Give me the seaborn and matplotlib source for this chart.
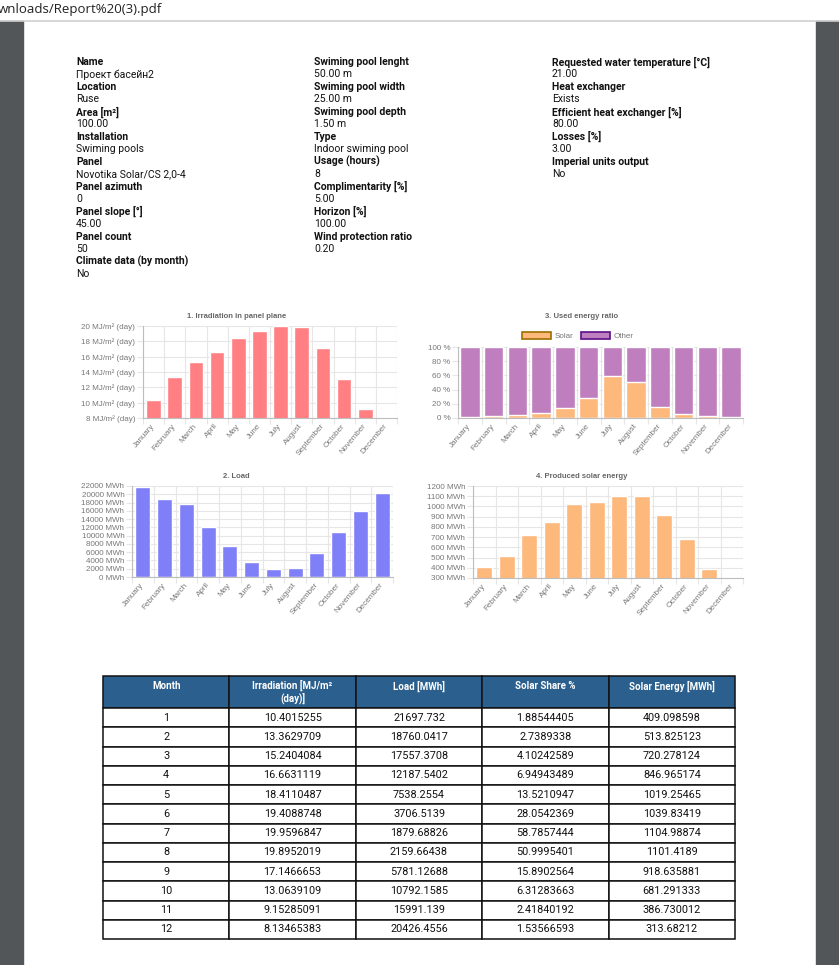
import matplotlib
matplotlib.use('Agg')
import matplotlib.pyplot as plt
from matplotlib.patches import Rectangle, Patch
from matplotlib.lines import Line2D
from matplotlib.ticker import FixedLocator
import seaborn as sns
import pandas as pd

# ---- data ----
months = ['January', 'February', 'March', 'April', 'May', 'June', 'July',
          'August', 'September', 'October', 'November', 'December']
month_no = list(range(1, 13))
irradiation = [10.4015255, 13.3629709, 15.2404084, 16.6631119, 18.4110487, 19.4088748,
               19.9596847, 19.8952019, 17.1466653, 13.0639109, 9.15285091, 8.13465383]
load = [21697.732, 18760.0417, 17557.3708, 12187.5402, 7538.2554, 3706.5139,
        1879.68826, 2159.66438, 5781.12688, 10792.1585, 15991.139, 20426.4556]
solar_share = [1.88544405, 2.7389338, 4.10242589, 6.94943489, 13.5210947, 28.0542369,
               58.7857444, 50.9995401, 15.8902564, 6.31283663, 2.41840192, 1.53566593]
solar_energy = [409.098598, 513.825123, 720.278124, 846.965174, 1019.25465, 1039.83419,
                1104.98874, 1101.4189, 918.635881, 681.291333, 386.730012, 313.68212]
other_share = [100 - s for s in solar_share]

# header fields: (label, value)
col1_fields = [('Name', 'Проект басейн2'), ('Location', 'Ruse'), ('Area [m²]', '100.00'),
               ('Installation', 'Swiming pools'), ('Panel', 'Novotika Solar/CS 2,0-4'),
               ('Panel azimuth', '0'), ('Panel slope [°]', '45.00'), ('Panel count', '50'),
               ('Climate data (by month)', 'No')]
col2_fields = [('Swiming pool lenght', '50.00 m'), ('Swiming pool width', '25.00 m'),
               ('Swiming pool depth', '1.50 m'), ('Type', 'Indoor swiming pool'),
               ('Usage (hours)', '8'), ('Complimentarity [%]', '5.00'),
               ('Horizon [%]', '100.00'), ('Wind protection ratio', '0.20')]
col3_fields = [('Requested water temperature [°C]', '21.00'), ('Heat exchanger', 'Exists'),
               ('Efficient heat exchanger [%]', '80.00'), ('Losses [%]', '3.00'),
               ('Imperial units output', 'No')]

table_cols = ['Month', 'Irradiation [MJ/m²\n(day)]', 'Load [MWh]', 'Solar Share %', 'Solar Energy [MWh]']

df = pd.DataFrame({'month': months, 'irr': irradiation, 'load': load,
                   'solar': solar_share, 'other': other_share, 'energy': solar_energy})
df['total'] = df['solar'] + df['other']

RED = '#ff7f82'
BLUE = '#7f7ff8'
ORANGE = '#fdb87c'
PURPLE = '#bf7fbf'
TICK_C = '#777777'
GRID_C = '#e6e6e6'

sns.set_theme(style='white')
plt.rcParams['font.family'] = ['Roboto', 'DejaVu Sans']

W, H = 839, 965
fig = plt.figure(figsize=(W / 100, H / 100), dpi=100)
fig.patch.set_facecolor('white')


def rect(x0, y0, x1, y1):
    return [x0 / W, 1 - y1 / H, (x1 - x0) / W, (y1 - y0) / H]


# ---- viewer chrome ----
fig.add_artist(Rectangle((0, 0), 23 / W, 1 - 21 / H, transform=fig.transFigure,
                         color='#525659', zorder=0))
fig.add_artist(Rectangle((816 / W, 0), 23 / W, 1 - 21 / H, transform=fig.transFigure,
                         color='#525659', zorder=0))
fig.add_artist(Line2D([0, 1], [1 - 20.5 / H] * 2, transform=fig.transFigure,
                      color='#cfcfcf', lw=1.2))
fig.text(-0.002, 1 - 10 / H, 'wnloads/Report%20(3).pdf', fontsize=9.5,
         family=['Open Sans', 'DejaVu Sans'], color='#222', va='center', ha='left')

# ---- header info ----
step = 12.47
for x, fields in zip([76, 314, 552], [col1_fields, col2_fields, col3_fields]):
    for i, (lab, val) in enumerate(fields):
        y = 62 + 2 * i * step
        fig.text(x / W, 1 - y / H, lab, fontsize=7.5, fontweight='bold', color='#111',
                 va='center', ha='left')
        fig.text(x / W, 1 - (y + step) / H, val, fontsize=7.5, color='#111',
                 va='center', ha='left')


# ---- charts ----
def style_chart(ax, ticks, labels):
    ax.set_xlim(-0.5, 11.5)
    ax.yaxis.set_major_locator(FixedLocator(ticks))
    ax.set_yticklabels(labels)
    ax.set_ylim(ticks[0], ticks[-1])
    ax.set_xticks(range(12))
    ax.set_xticklabels(months, rotation=50, ha='right', va='center', rotation_mode='anchor')
    ax.xaxis.set_minor_locator(FixedLocator([i - 0.5 for i in range(13)]))
    ax.grid(True, axis='y', which='major', color=GRID_C, lw=0.8)
    ax.grid(True, axis='x', which='minor', color=GRID_C, lw=0.8)
    ax.tick_params(axis='x', which='major', bottom=True, length=0, pad=5,
                   labelsize=5.8, labelcolor=TICK_C)
    ax.tick_params(axis='x', which='minor', bottom=True, length=4, width=0.8, color=GRID_C)
    ax.tick_params(axis='y', left=True, length=4, width=0.8, color=GRID_C, pad=1.5,
                   labelsize=5.8, labelcolor=TICK_C)
    for s in ['top', 'right']:
        ax.spines[s].set_visible(False)
    for s in ['left', 'bottom']:
        ax.spines[s].set_color('#bdbdbd')
        ax.spines[s].set_linewidth(0.8)
    for lbl in ax.get_xticklabels() + ax.get_yticklabels():
        lbl.set_family(['Liberation Sans', 'DejaVu Sans'])
    ax.set_xlabel('')
    ax.set_ylabel('')
    ax.set_axisbelow(True)
    ax.set_facecolor('none')


def chart_title(x, y, text):
    fig.text(x / W, 1 - y / H, text, fontsize=5.5, fontweight='bold', color='#666',
             ha='center', va='center', family=['Liberation Sans', 'DejaVu Sans'])


# 1. Irradiation
ax1 = fig.add_axes(rect(143, 326, 397, 418))
sns.barplot(data=df, x='month', y='irr', color=RED, saturation=1, width=0.7, ax=ax1)
style_chart(ax1, list(range(8, 21, 2)), [f'{v} MJ/m² (day)' for v in range(8, 21, 2)])
chart_title(237, 316, '1. Irradiation in panel plane')

# 2. Load
ax2 = fig.add_axes(rect(132, 486, 393, 577))
sns.barplot(data=df, x='month', y='load', color=BLUE, saturation=1, width=0.7, ax=ax2)
style_chart(ax2, list(range(0, 22001, 2000)), [f'{v} MWh' for v in range(0, 22001, 2000)])
chart_title(236, 476, '2. Load')

# 3. Used energy ratio (stacked)
ax3 = fig.add_axes(rect(458, 347, 743, 418))
sns.barplot(data=df, x='month', y='total', color=PURPLE, saturation=1, width=0.82, ax=ax3)
sns.barplot(data=df, x='month', y='solar', color=ORANGE, saturation=1, width=0.82, ax=ax3)
style_chart(ax3, list(range(0, 101, 20)), [f'{v} %' for v in range(0, 101, 20)])
chart_title(582, 316, '3. Used energy ratio')
handles = [Patch(facecolor=ORANGE, edgecolor='#9c6d00', lw=1.2, label='Solar'),
           Patch(facecolor=PURPLE, edgecolor='#5a0d8a', lw=1.2, label='Other')]
leg = fig.legend(handles=handles, loc='center', bbox_to_anchor=(578 / W, 1 - 336 / H),
                 ncol=2, frameon=False, handlelength=3.6, handleheight=1.0,
                 columnspacing=1.0, handletextpad=0.4, labelcolor=TICK_C,
                 prop={'family': ['Liberation Sans', 'DejaVu Sans'], 'size': 5.8})

# 4. Produced solar energy
ax4 = fig.add_axes(rect(473, 486, 743, 578))
sns.barplot(data=df, x='month', y='energy', color=ORANGE, saturation=1, width=0.7, ax=ax4)
style_chart(ax4, list(range(300, 1201, 100)), [f'{v} MWh' for v in range(300, 1201, 100)])
chart_title(582, 476, '4. Produced solar energy')

# ---- table ----
axt = fig.add_axes(rect(103, 676, 735, 939))
axt.axis('off')
rows = [[str(m), str(a), str(b), str(c), str(d)]
        for m, a, b, c, d in zip(month_no, irradiation, load, solar_share, solar_energy)]
header = [c if '\n' in c else c + '\n' for c in table_cols]
tbl = axt.table(cellText=rows, colLabels=header, cellLoc='center', bbox=[0, 0, 1, 1])
tbl.auto_set_font_size(False)
tbl.set_fontsize(7.8)
for (r, c), cell in tbl.get_celld().items():
    cell.set_edgecolor('#111111')
    cell.set_linewidth(1.1)
    if r == 0:
        cell.set_height(32)
        cell.set_facecolor('#2b5f8e')
        cell.get_text().set_color('white')
        cell.get_text().set_fontweight('bold')
        cell.get_text().set_fontsize(7)
    else:
        cell.set_height(19.25)
        cell.get_text().set_color('#111')

fig.savefig('out.png', dpi=100)
